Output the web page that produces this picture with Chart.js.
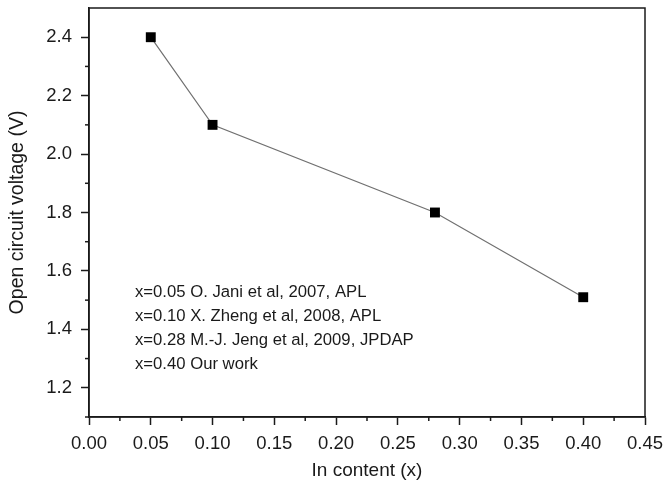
<!DOCTYPE html>
<html><head><meta charset="utf-8">
<script src="https://cdn.jsdelivr.net/npm/chart.js@4"></script>
<style>html,body{margin:0;padding:0;background:#fff}#w{width:665px;height:485px}</style>
</head><body><div id="w"><canvas id="c"></canvas></div>
<script>
const inContent = [0.05, 0.10, 0.28, 0.40];
const openCircuitVoltage = [2.40, 2.10, 1.80, 1.51];
const notes = [
  "x=0.05 O. Jani et al, 2007, APL",
  "x=0.10 X. Zheng et al, 2008, APL",
  "x=0.28 M.-J. Jeng et al, 2009, JPDAP",
  "x=0.40 Our work"
];
const notesAnchor = {x: 0.0372, y: 1.528};
const xTitle = "In content (x)";
const yTitle = "Open circuit voltage (V)";

const FONT = "Arial, 'Liberation Sans', sans-serif";
const TXT = '#1a1a1a';

const framePlugin = {
  id: 'frame',
  afterDraw(chart) {
    const {ctx, chartArea: a, scales} = chart;
    ctx.save();
    ctx.strokeStyle = '#1a1a1a';
    ctx.lineWidth = 1.5;
    ctx.strokeRect(a.left, a.top, a.right - a.left, a.bottom - a.top);
    const xs = scales.x, ys = scales.y;
    for (let v = 0.025; v < 0.45; v += 0.05) {
      const px = xs.getPixelForValue(v);
      ctx.beginPath(); ctx.moveTo(px, a.bottom); ctx.lineTo(px, a.bottom + 4); ctx.stroke();
    }
    for (let v = 1.1; v < 2.5; v += 0.2) {
      const py = ys.getPixelForValue(v);
      ctx.beginPath(); ctx.moveTo(a.left, py); ctx.lineTo(a.left - 4, py); ctx.stroke();
    }
    ctx.fillStyle = TXT;
    ctx.font = "16.7px " + FONT;
    ctx.textBaseline = 'middle';
    ctx.textAlign = 'left';
    const x0 = xs.getPixelForValue(notesAnchor.x);
    const y0 = ys.getPixelForValue(notesAnchor.y);
    notes.forEach((t, i) => ctx.fillText(t, x0, y0 + i * 24.3));
    ctx.restore();
  }
};

new Chart(document.getElementById('c'), {
  type: 'scatter',
  data: {
    datasets: [{
      data: inContent.map((x, i) => ({x, y: openCircuitVoltage[i]})),
      showLine: true,
      borderColor: '#707070',
      borderWidth: 1.2,
      pointStyle: 'rect',
      pointRadius: 7,
      pointHoverRadius: 7,
      pointBackgroundColor: '#000',
      pointBorderColor: '#000',
      pointBorderWidth: 0,
      tension: 0
    }]
  },
  options: {
    responsive: true,
    maintainAspectRatio: false,
    animation: false,
    plugins: {legend: {display: false}, tooltip: {enabled: false}},
    layout: {padding: {left: 0, right: 20, top: 8, bottom: 0}},
    scales: {
      x: {
        type: 'linear', min: 0, max: 0.45,
        afterFit: s => { s.height = 68; s.paddingLeft = 0; s.paddingRight = 0; },
        grid: {drawOnChartArea: false, tickLength: 8, tickWidth: 1.5, tickColor: '#1a1a1a'},
        border: {display: true, color: '#1a1a1a', width: 1.5},
        ticks: {stepSize: 0.05, color: TXT, padding: 8, font: {size: 18.5, family: FONT},
                callback: v => v.toFixed(2), maxRotation: 0},
        title: {display: true, text: xTitle, color: TXT, font: {size: 19, family: FONT}, padding: {top: 2, bottom: 3}}
      },
      y: {
        type: 'linear', min: 1.1, max: 2.5,
        afterFit: s => { s.width = 89; s.paddingTop = 0; s.paddingBottom = 0; },
        afterBuildTicks: s => { s.ticks = [1.2,1.4,1.6,1.8,2.0,2.2,2.4].map(v => ({value: v})); },
        grid: {drawOnChartArea: false, tickLength: 8, tickWidth: 1.5, tickColor: '#1a1a1a'},
        border: {display: true, color: '#1a1a1a', width: 1.5},
        ticks: {color: TXT, padding: 9, font: {size: 18.5, family: FONT}, callback: v => v.toFixed(1)},
        title: {display: true, text: yTitle, color: TXT, font: {size: 19.5, family: FONT}, padding: {top: 6, bottom: 2}}
      }
    }
  },
  plugins: [framePlugin]
});
</script></body></html>
